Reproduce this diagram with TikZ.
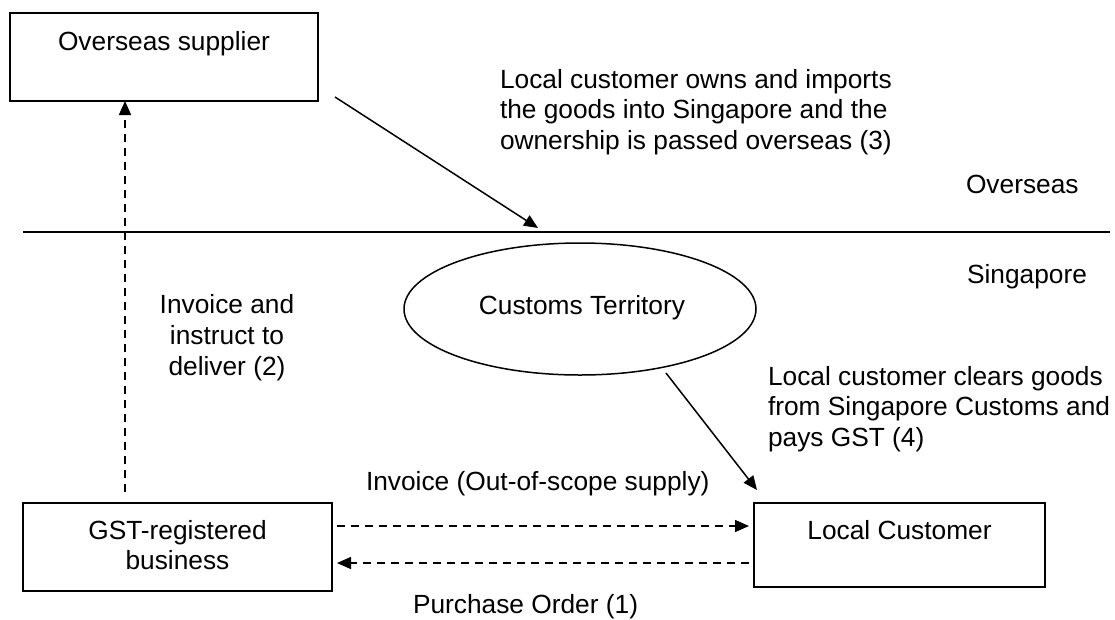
\documentclass[tikz,border=0pt]{standalone}
\usepackage{fontspec}
\setmainfont{Liberation Sans}
\usetikzlibrary{arrows.meta,shapes.geometric,calc}
\begin{document}
\begin{tikzpicture}[x=1pt,y=-1pt,
  every node/.style={font=\fontsize{26.3}{30.5}\selectfont, inner sep=0pt, outer sep=0pt},
  boxshape/.style={draw, line width=1.7pt, rectangle},
  txt/.style={anchor=base west},
  ctxt/.style={anchor=base},
  dasharrow/.style={line width=1.5pt, dash pattern=on 8pt off 6pt, -{Triangle[length=14pt,width=12pt]}},
  solidarrow/.style={line width=1.5pt, -{Triangle[length=14pt,width=12pt]}},
  borderline/.style={line width=1.5pt}]
\useasboundingbox (0,0) rectangle (1115,619);

% boxes
\node[boxshape, minimum width=308pt, minimum height=88pt] (sup) at (164,57) {};
\node[boxshape, minimum width=309pt, minimum height=88pt] (gst) at (177.5,547) {};
\node[boxshape, minimum width=291pt, minimum height=84pt] (lc) at (899.5,545) {};
\node[draw, line width=1.5pt, ellipse, minimum width=352pt, minimum height=132pt] (ct) at (580,309) {};

% box texts
\node[ctxt] (suptext) at (164,50) {Overseas supplier};
\node[ctxt] (gsttext) at (177.5,539) {\begin{tabular}[t]{@{}c@{}}GST-registered\\business\end{tabular}};
\node[ctxt] (lctext) at (899.5,539) {Local Customer};
\node[ctxt] (cttext) at (582,314) {Customs Territory};

% border line
\coordinate (bl) at (23,232);
\coordinate (br) at (1110,232);
\draw[borderline] (bl) -- (br);

% labels
\node[txt] (lab3) at (500,88) {\begin{tabular}[t]{@{}l@{}}Local customer owns and imports\\the goods into Singapore and the\\ownership is passed overseas (3)\end{tabular}};
\node[txt] (ovs) at (966,193) {Overseas};
\node[txt] (sgp) at (967,283) {Singapore};
\node[ctxt, font=\fontsize{26.3}{31}\selectfont] (lab2) at (227,313) {\begin{tabular}[t]{@{}c@{}}Invoice and\\instruct to\\deliver (2)\end{tabular}};
\node[txt] (lab4) at (768,385) {\begin{tabular}[t]{@{}l@{}}Local customer clears goods\\from Singapore Customs and\\pays GST (4)\end{tabular}};
\node[txt] (labinv) at (366,490) {Invoice (Out-of-scope supply)};
\node[txt] (labpo) at (413,613) {Purchase Order (1)};

% helper coordinates
\coordinate (vx) at (125,0);
\coordinate (hy1) at (0,526);
\coordinate (hy2) at (0,563);
\coordinate (a3s) at (335,97);
\coordinate (a3e) at (538,228);
\coordinate (a4s) at (666,373);
\coordinate (a4e) at (757,490);

% connectors
\draw[dasharrow, shorten <=11pt] (gst.north -| vx) -- (sup.south -| vx);
\draw[dasharrow, shorten <=5pt, shorten >=5pt] (gst.east |- hy1) -- (lc.west |- hy1);
\draw[dasharrow, shorten <=5pt, shorten >=5pt] (lc.west |- hy2) -- (gst.east |- hy2);
\draw[solidarrow] (a3s) -- (a3e);
\draw[solidarrow] (a4s) -- (a4e);
\end{tikzpicture}
\end{document}
